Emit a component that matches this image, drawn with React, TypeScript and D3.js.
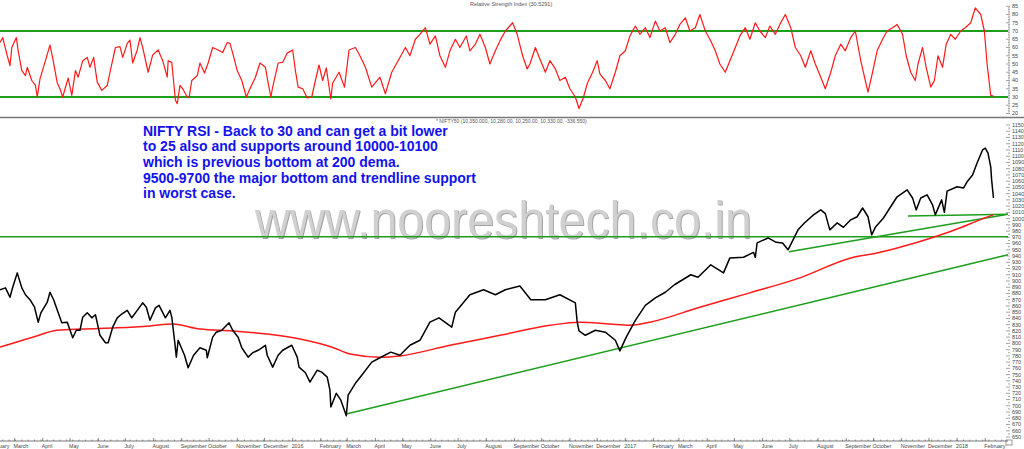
import * as d3 from "d3";

const parseDay = d3.timeParse("%Y-%m-%d");

// NIFTY 50 daily closes (axis shows index / 10)
const niftyCloses: [string, number][] = [
  ["2015-02-13", 886], ["2015-02-19", 889], ["2015-02-24", 874], ["2015-02-27", 890],
  ["2015-03-04", 913], ["2015-03-09", 889], ["2015-03-13", 878], ["2015-03-18", 870],
  ["2015-03-23", 858], ["2015-03-27", 834], ["2015-03-30", 849], ["2015-04-06", 866],
  ["2015-04-09", 882], ["2015-04-13", 870], ["2015-04-20", 841], ["2015-04-22", 833],
  ["2015-04-28", 834], ["2015-05-04", 809], ["2015-05-08", 821], ["2015-05-12", 821],
  ["2015-05-15", 842], ["2015-05-20", 849], ["2015-05-25", 841], ["2015-05-29", 846],
  ["2015-06-03", 813], ["2015-06-09", 801], ["2015-06-12", 801], ["2015-06-17", 826],
  ["2015-06-22", 841], ["2015-06-26", 846], ["2015-07-03", 853], ["2015-07-08", 841],
  ["2015-07-14", 853], ["2015-07-20", 865], ["2015-07-24", 858], ["2015-07-28", 837],
  ["2015-08-03", 857], ["2015-08-07", 861], ["2015-08-14", 841], ["2015-08-19", 853],
  ["2015-08-21", 842], ["2015-08-24", 805], ["2015-08-26", 778], ["2015-08-28", 805],
  ["2015-09-04", 781], ["2015-09-08", 761], ["2015-09-14", 781], ["2015-09-21", 793],
  ["2015-09-28", 789], ["2015-09-29", 777], ["2015-10-05", 810], ["2015-10-09", 818],
  ["2015-10-15", 821], ["2015-10-23", 833], ["2015-10-27", 821], ["2015-11-02", 810],
  ["2015-11-06", 793], ["2015-11-13", 778], ["2015-11-18", 785], ["2015-11-24", 789],
  ["2015-12-02", 797], ["2015-12-04", 781], ["2015-12-10", 762], ["2015-12-16", 781],
  ["2015-12-21", 789], ["2015-12-31", 797], ["2016-01-06", 778], ["2016-01-08", 762],
  ["2016-01-15", 753], ["2016-01-20", 738], ["2016-01-28", 757], ["2016-02-02", 754],
  ["2016-02-08", 746], ["2016-02-11", 725], ["2016-02-12", 698], ["2016-02-18", 720],
  ["2016-02-23", 709], ["2016-02-29", 684], ["2016-03-02", 717], ["2016-03-10", 736],
  ["2016-03-17", 749], ["2016-03-28", 770], ["2016-04-06", 777], ["2016-04-18", 786],
  ["2016-04-28", 781], ["2016-05-09", 797], ["2016-05-20", 805], ["2016-05-31", 834],
  ["2016-06-10", 841], ["2016-06-24", 826], ["2016-06-28", 850], ["2016-07-14", 878],
  ["2016-07-29", 886], ["2016-08-11", 878], ["2016-08-22", 886], ["2016-09-07", 892],
  ["2016-09-19", 870], ["2016-10-05", 870], ["2016-10-21", 878], ["2016-11-07", 865],
  ["2016-11-09", 835], ["2016-11-11", 820], ["2016-11-18", 813], ["2016-11-29", 821],
  ["2016-12-10", 818], ["2016-12-21", 805], ["2016-12-26", 788], ["2017-01-02", 810],
  ["2017-01-12", 837], ["2017-01-23", 861], ["2017-02-03", 873], ["2017-02-14", 882],
  ["2017-02-24", 894], ["2017-03-14", 910], ["2017-03-22", 906], ["2017-04-05", 926],
  ["2017-04-19", 913], ["2017-04-26", 937], ["2017-05-11", 938], ["2017-05-22", 946],
  ["2017-05-24", 938], ["2017-05-26", 961], ["2017-06-07", 969], ["2017-06-16", 962],
  ["2017-06-23", 961], ["2017-06-29", 950], ["2017-07-10", 982], ["2017-07-17", 993],
  ["2017-07-27", 1006], ["2017-08-04", 1014], ["2017-08-09", 1008], ["2017-08-14", 982],
  ["2017-08-22", 993], ["2017-08-29", 986], ["2017-09-06", 998], ["2017-09-13", 1003],
  ["2017-09-19", 1017], ["2017-09-25", 1003], ["2017-09-29", 974], ["2017-10-03", 986],
  ["2017-10-12", 1001], ["2017-10-19", 1017], ["2017-10-27", 1035], ["2017-11-07", 1046],
  ["2017-11-13", 1033], ["2017-11-17", 1014], ["2017-11-22", 1033], ["2017-11-29", 1038],
  ["2017-12-05", 1022], ["2017-12-08", 1006], ["2017-12-15", 1030], ["2017-12-18", 1010],
  ["2017-12-21", 1044], ["2018-01-01", 1051], ["2018-01-08", 1049], ["2018-01-12", 1059],
  ["2018-01-18", 1070], ["2018-01-23", 1089], ["2018-01-29", 1110], ["2018-02-01", 1113],
  ["2018-02-04", 1105], ["2018-02-07", 1083], ["2018-02-08", 1062], ["2018-02-10", 1033],
];

// 200 day DEMA
const dema200: [string, number][] = [
  ["2015-02-13", 794], ["2015-03-21", 810], ["2015-04-17", 821], ["2015-05-15", 823],
  ["2015-06-22", 825], ["2015-07-28", 828], ["2015-08-22", 831], ["2015-09-21", 823],
  ["2015-10-27", 820], ["2015-12-04", 815], ["2016-01-09", 807], ["2016-02-15", 793],
  ["2016-03-04", 783], ["2016-04-06", 778], ["2016-04-28", 780], ["2016-06-22", 797],
  ["2016-08-16", 813], ["2016-10-10", 829], ["2016-11-12", 834], ["2016-12-15", 831],
  ["2017-01-06", 829], ["2017-01-28", 834], ["2017-03-24", 858], ["2017-05-18", 881],
  ["2017-07-12", 905], ["2017-09-06", 937], ["2017-10-05", 945], ["2017-10-30", 954],
  ["2017-12-06", 970], ["2018-01-04", 985], ["2018-01-26", 998], ["2018-02-10", 1006],
];

// RSI(14)
const rsi14: [string, number][] = [
  ["2015-02-13", 63], ["2015-02-16", 66], ["2015-02-21", 55], ["2015-02-24", 49],
  ["2015-02-26", 60], ["2015-03-03", 66], ["2015-03-05", 58], ["2015-03-09", 46],
  ["2015-03-13", 43], ["2015-03-15", 48], ["2015-03-20", 40], ["2015-03-24", 37],
  ["2015-03-26", 30], ["2015-03-29", 41], ["2015-04-04", 52], ["2015-04-09", 61.5],
  ["2015-04-12", 53.6], ["2015-04-17", 38.5], ["2015-04-20", 35], ["2015-04-23", 30],
  ["2015-04-29", 41.5], ["2015-05-03", 31], ["2015-05-07", 46], ["2015-05-10", 42],
  ["2015-05-15", 52], ["2015-05-20", 54], ["2015-05-23", 48], ["2015-05-27", 54],
  ["2015-05-31", 39], ["2015-06-05", 34], ["2015-06-11", 37], ["2015-06-14", 45],
  ["2015-06-20", 60], ["2015-06-25", 60.5], ["2015-06-28", 54], ["2015-07-03", 62.5],
  ["2015-07-06", 64.5], ["2015-07-09", 50.6], ["2015-07-14", 58.5], ["2015-07-17", 66],
  ["2015-07-20", 60], ["2015-07-26", 45], ["2015-07-31", 55.5], ["2015-08-06", 58.5],
  ["2015-08-11", 52], ["2015-08-16", 42], ["2015-08-17", 52], ["2015-08-21", 51],
  ["2015-08-25", 28], ["2015-08-27", 26], ["2015-08-30", 37], ["2015-09-02", 35],
  ["2015-09-07", 30], ["2015-09-09", 29.5], ["2015-09-12", 40], ["2015-09-18", 43],
  ["2015-09-21", 50.6], ["2015-09-26", 44.5], ["2015-09-30", 50.6], ["2015-10-05", 60],
  ["2015-10-11", 58.5], ["2015-10-16", 57], ["2015-10-21", 63], ["2015-10-24", 62.5],
  ["2015-10-27", 56.6], ["2015-11-01", 46], ["2015-11-06", 40], ["2015-11-11", 30],
  ["2015-11-15", 35], ["2015-11-21", 42], ["2015-11-26", 50.6], ["2015-12-02", 48],
  ["2015-12-05", 38.5], ["2015-12-08", 30], ["2015-12-10", 36], ["2015-12-16", 50.6],
  ["2015-12-21", 51], ["2015-12-26", 56.6], ["2016-01-01", 58.5], ["2016-01-04", 46],
  ["2016-01-07", 36], ["2016-01-12", 35], ["2016-01-17", 29.4], ["2016-01-22", 30],
  ["2016-01-26", 40], ["2016-01-30", 49.4], ["2016-02-03", 40], ["2016-02-07", 47.6],
  ["2016-02-12", 28.8], ["2016-02-14", 38.5], ["2016-02-21", 45], ["2016-02-27", 36],
  ["2016-03-03", 58.5], ["2016-03-10", 60], ["2016-03-15", 55], ["2016-03-21", 48],
  ["2016-03-28", 36], ["2016-04-06", 42], ["2016-04-12", 32], ["2016-04-19", 45],
  ["2016-04-26", 52], ["2016-05-04", 60], ["2016-05-09", 55], ["2016-05-15", 65],
  ["2016-05-20", 68], ["2016-05-26", 72], ["2016-05-31", 62], ["2016-06-06", 67],
  ["2016-06-11", 55], ["2016-06-17", 48], ["2016-06-22", 58], ["2016-06-28", 65],
  ["2016-07-03", 60], ["2016-07-10", 67], ["2016-07-14", 58], ["2016-07-20", 62],
  ["2016-07-25", 68], ["2016-07-31", 60], ["2016-08-05", 50], ["2016-08-11", 58],
  ["2016-08-16", 64], ["2016-08-22", 70], ["2016-08-30", 75], ["2016-09-04", 68],
  ["2016-09-10", 55], ["2016-09-15", 47], ["2016-09-18", 50], ["2016-09-24", 60],
  ["2016-09-29", 53], ["2016-10-05", 45], ["2016-10-10", 52], ["2016-10-16", 47],
  ["2016-10-21", 40], ["2016-10-27", 42], ["2016-11-01", 35], ["2016-11-07", 30],
  ["2016-11-11", 23], ["2016-11-16", 30], ["2016-11-20", 38], ["2016-11-26", 45],
  ["2016-12-01", 52], ["2016-12-04", 44], ["2016-12-10", 40], ["2016-12-15", 35],
  ["2016-12-21", 45], ["2016-12-26", 55], ["2017-01-01", 58], ["2017-01-06", 67],
  ["2017-01-12", 73], ["2017-01-17", 68], ["2017-01-23", 72], ["2017-01-28", 66],
  ["2017-02-03", 76], ["2017-02-08", 70], ["2017-02-14", 72], ["2017-02-19", 63],
  ["2017-02-25", 68], ["2017-03-02", 74], ["2017-03-08", 78], ["2017-03-13", 70],
  ["2017-03-19", 72], ["2017-03-24", 80], ["2017-03-30", 70], ["2017-04-04", 65],
  ["2017-04-10", 58], ["2017-04-15", 50], ["2017-04-21", 45], ["2017-04-26", 52],
  ["2017-05-02", 60], ["2017-05-07", 67], ["2017-05-13", 72], ["2017-05-18", 65],
  ["2017-05-24", 75], ["2017-05-29", 70], ["2017-06-04", 66], ["2017-06-09", 73],
  ["2017-06-15", 68], ["2017-06-20", 74], ["2017-06-26", 80], ["2017-07-02", 72],
  ["2017-07-07", 60], ["2017-07-13", 55], ["2017-07-18", 48], ["2017-07-24", 58],
  ["2017-07-29", 50], ["2017-08-04", 42], ["2017-08-09", 35], ["2017-08-15", 45],
  ["2017-08-20", 55], ["2017-08-26", 62], ["2017-08-31", 58], ["2017-09-06", 66],
  ["2017-09-11", 70], ["2017-09-17", 52], ["2017-09-22", 40], ["2017-09-25", 33],
  ["2017-09-30", 45], ["2017-10-05", 58], ["2017-10-11", 65], ["2017-10-16", 70],
  ["2017-10-22", 72], ["2017-10-27", 74], ["2017-11-02", 68], ["2017-11-06", 55],
  ["2017-11-11", 45], ["2017-11-16", 40], ["2017-11-19", 50], ["2017-11-24", 60],
  ["2017-11-28", 48], ["2017-12-03", 36], ["2017-12-07", 40], ["2017-12-11", 55],
  ["2017-12-16", 48], ["2017-12-20", 62], ["2017-12-25", 68], ["2017-12-30", 65],
  ["2018-01-05", 70], ["2018-01-10", 72], ["2018-01-16", 75], ["2018-01-21", 84],
  ["2018-01-27", 80], ["2018-01-31", 70], ["2018-02-03", 50], ["2018-02-07", 31],
  ["2018-02-10", 30.5],
];

// green support lines: [date, value] pairs
const supportLines: [[string, number], [string, number]][] = [
  [["2015-02-13", 971], ["2018-02-26", 971]],
  [["2016-02-29", 687], ["2018-02-26", 942]],
  [["2017-06-30", 947], ["2018-02-26", 1007]],
  [["2017-11-08", 1004], ["2018-02-26", 1007]],
];

const rsiBands = [70, 30];
const rsiTickValues = [85, 80, 75, 70, 65, 60, 55, 50, 45, 40, 35, 30, 25, 20];
const priceTickValues = d3.range(650, 1151, 10);

const rsiTitle = "Relative Strength Index (30.5291)";
const priceTitle = "* NIFTY50 (10,350.000, 10,280.00, 10,250.00, 10,330.00, -336.550)";
const noteLines = [
  "NIFTY RSI - Back to 30 and can get a bit lower",
  "to 25 also and supports around 10000-10100",
  "which is previous bottom at 200 dema.",
  "9500-9700 the major bottom and trendline support",
  "in worst case.",
];
const watermark = "www.nooreshtech.co.in";

const W = 1024;
const H = 449;
const RIGHT = 1008;
const axisFont = "'Liberation Sans', Arial, sans-serif";

export default function App() {
  const start = parseDay("2015-02-13")!;
  const end = parseDay("2018-02-26")!;
  const x = d3.scaleTime().domain([start, end]).range([0, RIGHT]);
  const yRsi = d3.scaleLinear().domain([30, 70]).range([97, 31]);
  const yPrice = d3.scaleLinear().domain([650, 1150]).range([437, 125]);

  const xd = (s: string) => x(parseDay(s)!);

  const priceLine = d3
    .line<[string, number]>()
    .x((d) => xd(d[0]))
    .y((d) => yPrice(d[1]));
  const demaLine = d3
    .line<[string, number]>()
    .x((d) => xd(d[0]))
    .y((d) => yPrice(d[1]))
    .curve(d3.curveMonotoneX);
  const rsiLine = d3
    .line<[string, number]>()
    .x((d) => xd(d[0]))
    .y((d) => yRsi(d[1]));

  const months = d3.timeMonth.range(new Date(2015, 1, 1), new Date(2018, 2, 1));
  const weeks = d3.timeMonday.range(start, end);
  const monthName = d3.timeFormat("%B");
  const axisY = 441;

  return (
    <svg
      width={W}
      height={H}
      style={{ position: "absolute", left: 0, top: 0, background: "#fff" }}
    >
      <rect width={W} height={H} fill="#fff" />

      {/* RSI panel */}
      <text x={470} y={6} fontSize={5.5} fontFamily={axisFont} fill="#555">
        {rsiTitle}
      </text>
      {rsiBands.map((v) => (
        <line key={v} x1={0} x2={RIGHT} y1={yRsi(v)} y2={yRsi(v)} stroke="#1c9e1c" strokeWidth={2} />
      ))}
      <path d={rsiLine(rsi14) ?? ""} fill="none" stroke="#ff1a1a" strokeWidth={1.2} strokeLinejoin="round" />
      {d3.range(20, 86, 1).map((v) => (
        <line
          key={"rm" + v}
          x1={v % 5 === 0 ? 1006 : 1008}
          x2={1010}
          y1={yRsi(v)}
          y2={yRsi(v)}
          stroke="#666"
          strokeWidth={0.6}
        />
      ))}
      {rsiTickValues.map((v) => (
        <text key={"rt" + v} x={1012} y={yRsi(v)} dy="0.35em" fontSize={5.5} fontFamily={axisFont} fill="#444">
          {v}
        </text>
      ))}

      <line x1={0} x2={W} y1={117.5} y2={117.5} stroke="#777" strokeWidth={1.5} />

      {/* price panel */}
      <text x={436} y={123} fontSize={5} fontFamily={axisFont} fill="#555">
        {priceTitle}
      </text>

      <g fontFamily={axisFont} fontSize={51}>
        <text x={256} y={239} fill="#a4a4a4" textLength={497} lengthAdjust="spacingAndGlyphs">
          {watermark}
        </text>
        <text x={255} y={238} fill="#d0d0d0" textLength={497} lengthAdjust="spacingAndGlyphs">
          {watermark}
        </text>
      </g>

      {noteLines.map((t, i) => (
        <text
          key={i}
          x={143}
          y={135.5 + i * 15.7}
          fontSize={14}
          fontWeight="bold"
          fontFamily={axisFont}
          fill="#1212ee"
        >
          {t}
        </text>
      ))}

      {supportLines.map(([a, b], i) => (
        <line
          key={"s" + i}
          x1={xd(a[0])}
          y1={yPrice(a[1])}
          x2={xd(b[0])}
          y2={yPrice(b[1])}
          stroke="#1c9e1c"
          strokeWidth={1.5}
        />
      ))}
      <path d={demaLine(dema200) ?? ""} fill="none" stroke="#ff1a1a" strokeWidth={1.5} />
      <path d={priceLine(niftyCloses) ?? ""} fill="none" stroke="#000" strokeWidth={1.5} strokeLinejoin="round" />

      {d3.range(650, 1151, 5).map((v) => (
        <line
          key={"pm" + v}
          x1={v % 10 === 0 ? 1006 : 1008}
          x2={1010}
          y1={yPrice(v)}
          y2={yPrice(v)}
          stroke="#666"
          strokeWidth={0.6}
        />
      ))}
      {priceTickValues.map((v) => (
        <text key={"pt" + v} x={1012} y={yPrice(v)} dy="0.35em" fontSize={5.5} fontFamily={axisFont} fill="#444">
          {v}
        </text>
      ))}

      {/* time axis */}
      <line x1={0} x2={RIGHT} y1={axisY} y2={axisY} stroke="#555" strokeWidth={0.8} />
      {weeks.map((d, i) => (
        <line key={"w" + i} x1={x(d)} x2={x(d)} y1={axisY - 1.5} y2={axisY} stroke="#555" strokeWidth={0.6} />
      ))}
      {months.map((d, i) => (
        <g key={"m" + i}>
          <line x1={x(d)} x2={x(d)} y1={axisY - 3} y2={axisY} stroke="#555" strokeWidth={0.7} />
          <text x={x(d) - 1} y={447.5} fontSize={5.3} fontFamily={axisFont} fill="#444">
            {d.getMonth() === 0 ? String(d.getFullYear()) : monthName(d)}
          </text>
        </g>
      ))}
      <rect x={1006} y={440} width={6} height={5} fill="none" stroke="#555" strokeWidth={0.6} />
    </svg>
  );
}
